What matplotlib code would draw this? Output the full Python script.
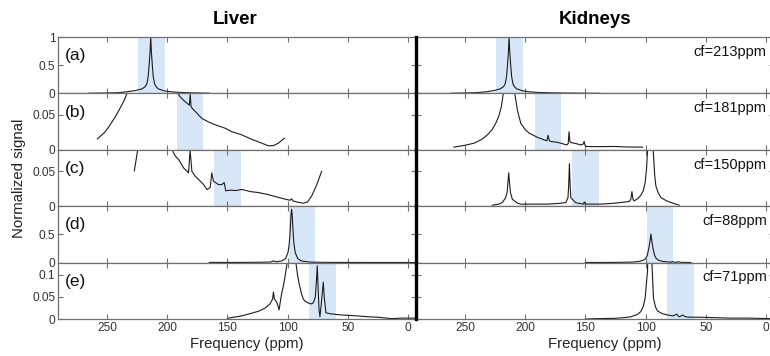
import matplotlib
matplotlib.use("Agg")
import matplotlib.pyplot as plt

# ---------------- data ----------------
col_titles = ["Liver", "Kidneys"]
panel_labels = ["(a)", "(b)", "(c)", "(d)", "(e)"]
cf_ppm = [213, 181, 150, 88, 71]
cf_labels = ["cf=213ppm", "cf=181ppm", "cf=150ppm", "cf=88ppm", "cf=71ppm"]
x_ticks = [0, 50, 100, 150, 200, 250]
y_ticks_rows = [[0, 0.5, 1], [0, 0.05], [0, 0.05], [0, 0.5], [0, 0.05, 0.1]]
y_ticklabels_rows = [["0", "0.5", "1"], ["0", "0.05"], ["0", "0.05"], ["0", "0.5"], ["0", "0.05", "0.1"]]
y_top_rows = [1.0, 0.081, 0.081, 1.0, 0.127]

# Liver spectra
liver_a_ppm = [265, 250, 240, 233, 226.5, 221, 218.3, 216.9, 215.8, 215.1, 214.3, 213.7, 213.1,
               212.3, 211.6, 210.5, 209.3, 207.4, 202.5, 197.5, 190, 180, 172, 165]
liver_a_sig = [0.003, 0.007, 0.014, 0.03, 0.05, 0.08, 0.12, 0.17, 0.3, 0.48, 0.72, 1.0, 0.72,
               0.48, 0.3, 0.17, 0.12, 0.08, 0.045, 0.03, 0.018, 0.01, 0.006, 0.004]

liver_b_ppm = [258, 252, 248.5, 244, 240, 236, 233.4, 228, 222, 216, 213.5, 211, 205, 198, 192,
               189.2, 186.4, 183.6, 181.6, 180.9, 180.2, 179.5, 176.7, 171.2, 165.7, 160.2, 151.9,
               146.4, 138, 129.8, 122.9, 116, 111.8, 107.7, 102.7]
liver_b_sig = [0.0157, 0.025, 0.033, 0.045, 0.057, 0.07, 0.081, 0.12, 0.25, 0.6, 1.0, 0.6, 0.25, 0.12,
               0.083, 0.076, 0.071, 0.067, 0.064, 0.08, 0.062, 0.06, 0.055, 0.045, 0.040, 0.036, 0.031,
               0.026, 0.0214, 0.015, 0.0105, 0.0057, 0.006, 0.0095, 0.0167]

liver_c_ppm = [227.3, 226, 224.5, 220, 213.5, 205, 196, 193.3, 190.5, 186.4, 182.3, 181, 179.5, 176.7,
               174, 169.8, 167, 164.3, 163, 161.6, 157.4, 154.7, 152.7, 151.4, 148, 143, 138, 131,
               124.3, 117, 110.4, 104, 98, 96.7, 95.5, 91, 87, 83.5, 80, 76, 71.8]
liver_c_sig = [0.051, 0.065, 0.081, 0.15, 1.0, 0.15, 0.081, 0.072, 0.067, 0.055, 0.048, 0.08, 0.05,
               0.043, 0.0386, 0.031, 0.024, 0.027, 0.048, 0.036, 0.031, 0.031, 0.034, 0.022, 0.023,
               0.0225, 0.024, 0.021, 0.0196, 0.017, 0.014, 0.011, 0.0085, 0.0105, 0.0075, 0.0055,
               0.0043, 0.006, 0.0148, 0.03, 0.05]

liver_d_ppm = [165, 150, 135, 122, 114, 111.8, 109.5, 104.7, 101.7, 99.7, 98.7, 98.2, 97.7, 97.2,
               96.7, 96.2, 95.7, 95.2, 94.7, 93.7, 91.7, 88.7, 81.7, 75, 66, 50, 30, 10, 0, -6]
liver_d_sig = [0.004, 0.003, 0.004, 0.006, 0.010, 0.03, 0.014, 0.03, 0.073, 0.179, 0.326, 0.457,
               0.64, 0.845, 0.946, 0.845, 0.64, 0.457, 0.326, 0.179, 0.073, 0.030, 0.0088, 0.006,
               0.004, 0.003, 0.002, 0.002, 0.002, 0.001]

liver_e_ppm = [149.7, 145, 140, 135.3, 130, 124.3, 119, 114.6, 112.5, 111.8, 111, 109.1, 107.8,
               107.1, 106.3, 105, 103.5, 102.2, 100.2, 98.7, 97.7, 97.2, 96.7, 96.2, 95.7, 94.7,
               93.3, 91.8, 90.5, 88.5, 87, 85.5, 84.2, 82, 80.1, 78.5, 77, 76, 75.4, 74.7, 73.9,
               73.2, 72.2, 71.2, 70.4, 69.6, 68.2, 65, 60.7, 55, 48, 41.4, 33, 25, 13.8, 5, 0, -6]
liver_e_sig = [0.0015, 0.004, 0.006, 0.009, 0.013, 0.0174, 0.024, 0.034, 0.045, 0.0606, 0.045,
               0.038, 0.028, 0.0205, 0.035, 0.057, 0.075, 0.095, 0.13, 0.3, 0.6, 0.8, 0.95, 0.8, 0.6,
               0.3, 0.13, 0.1, 0.08, 0.057, 0.045, 0.04, 0.038, 0.035, 0.034, 0.037, 0.05, 0.09,
               0.12, 0.07, 0.02, 0.005, 0.03, 0.06, 0.083, 0.05, 0.014, 0.012, 0.0106, 0.009, 0.008,
               0.0068, 0.005, 0.004, 0.0008, 0.002, 0.002, 0.002]

# Kidney spectra
kidney_a_ppm = [262, 250, 240, 232, 226, 220.8, 218, 216.6, 215.5, 214.8, 214.0, 213.4, 212.8,
                212.0, 211.3, 210.2, 209, 207, 202, 197.4, 190, 180, 170, 160, 150, 138]
kidney_a_sig = [0.003, 0.007, 0.014, 0.03, 0.05, 0.08, 0.12, 0.17, 0.3, 0.48, 0.72, 1.0, 0.72,
                0.48, 0.3, 0.17, 0.12, 0.08, 0.045, 0.03, 0.018, 0.011, 0.007, 0.005, 0.003, 0.002]

kidney_b_ppm = [259.2, 250, 242.5, 236, 231.5, 227.5, 224.5, 222, 219.8, 218.2, 216, 213.4, 211,
                208.7, 206.5, 203.7, 200, 196.8, 190, 184.3, 182, 181, 180, 178.8, 174, 170.5,
                165.5, 164.3, 163.6, 162.9, 162.2, 158, 153.8, 152, 151.1, 150.4, 149.7, 140, 126,
                115, 102.6]
kidney_b_sig = [0.0038, 0.0065, 0.0095, 0.015, 0.0214, 0.029, 0.038, 0.048, 0.062, 0.081, 0.2, 1.0,
                0.2, 0.081, 0.057, 0.038, 0.029, 0.024, 0.018, 0.0143, 0.013, 0.021, 0.013, 0.012,
                0.011, 0.0095, 0.007, 0.009, 0.026, 0.012, 0.0105, 0.009, 0.007, 0.008, 0.012, 0.007,
                0.0048, 0.0045, 0.0048, 0.004, 0.0038]

kidney_c_ppm = [227.3, 222, 219, 216.2, 215, 214.3, 213.7, 213.1, 212.3, 210.7, 207, 203.7, 195,
                181.6, 172, 166.3, 164.5, 163.9, 163.3, 162.7, 162.1, 158, 151.8, 151, 150.2, 137.2,
                128, 120.6, 113.7, 112.3, 111.4, 110.5, 109.5, 106.5, 104, 102, 100.4, 99.2, 98.4,
                96.0, 93.7, 92.5, 91.5, 89.5, 87.3, 83, 79, 75, 72.1]
kidney_c_sig = [0.0014, 0.003, 0.0053, 0.0124, 0.02, 0.035, 0.048, 0.035, 0.02, 0.01, 0.005, 0.0029,
                0.003, 0.003, 0.004, 0.0053, 0.012, 0.03, 0.061, 0.03, 0.012, 0.005, 0.003, 0.006,
                0.003, 0.003, 0.004, 0.0053, 0.0067, 0.01, 0.021, 0.01, 0.0076, 0.011, 0.0157, 0.022,
                0.034, 0.055, 0.081, 0.5, 0.081, 0.045, 0.029, 0.019, 0.0124, 0.008, 0.0053, 0.003,
                0.0014]

kidney_d_ppm = [150, 130, 120, 110.6, 105.6, 102.1, 100.1, 98.6, 97.4, 96.5, 95.6, 94.7, 93.8,
                92.6, 91.1, 89.1, 85.6, 80.6, 78.5, 77.7, 76.5, 74, 72.7, 71.5, 66, 62.4]
kidney_d_sig = [0.002, 0.003, 0.005, 0.01, 0.02, 0.04, 0.07, 0.13, 0.25, 0.36, 0.506, 0.36, 0.25,
                0.13, 0.07, 0.04, 0.02, 0.01, 0.008, 0.02, 0.007, 0.007, 0.018, 0.006, 0.003, 0.002]

kidney_e_ppm = [149.7, 138, 126, 118, 112.3, 107, 104, 102, 100.4, 98.4, 97.2, 96.2, 95.2, 94.8,
                93.5, 91.8, 90.1, 86, 81.8, 77, 74.3, 73, 72, 70.5, 69.3, 67, 62.4, 55, 43, 30, 15,
                0, -6]
kidney_e_sig = [0.0, 0.001, 0.0015, 0.003, 0.005, 0.01, 0.0167, 0.028, 0.047, 0.11, 0.3, 0.5, 0.3,
                0.127, 0.047, 0.027, 0.018, 0.012, 0.009, 0.007, 0.011, 0.007, 0.005, 0.007, 0.009,
                0.005, 0.004, 0.004, 0.003, 0.002, 0.002, 0.001, 0.001]

liver_series = [(liver_a_ppm, liver_a_sig), (liver_b_ppm, liver_b_sig), (liver_c_ppm, liver_c_sig),
                (liver_d_ppm, liver_d_sig), (liver_e_ppm, liver_e_sig)]
kidney_series = [(kidney_a_ppm, kidney_a_sig), (kidney_b_ppm, kidney_b_sig),
                 (kidney_c_ppm, kidney_c_sig), (kidney_d_ppm, kidney_d_sig),
                 (kidney_e_ppm, kidney_e_sig)]

# ---------------- style / layout ----------------
plt.rcParams['font.family'] = ['Liberation Sans', 'DejaVu Sans']
W, H = 770, 356
fig = plt.figure(figsize=(W / 100, H / 100), dpi=100)

span_half = 11
span_color = '#d8e7f8'
line_color = '#1c1c1c'
spine_color = '#707070'
tick_color = '#333333'
xlim = (290.7, -6.6)

top_px, bot_px = 37, 319
row_h = (bot_px - top_px) / 5
col_left_px = [58, 416]
col_w_px = 358

for c, series in enumerate([liver_series, kidney_series]):
    for r in range(5):
        y0 = top_px + r * row_h
        ax = fig.add_axes([col_left_px[c] / W, 1 - (y0 + row_h) / H, col_w_px / W, row_h / H])
        ax.axvspan(cf_ppm[r] - span_half, cf_ppm[r] + span_half, color=span_color, lw=0, zorder=0)
        ppm, sig = series[r]
        ax.plot(ppm, sig, color=line_color, lw=0.8, zorder=2)
        ax.set_xlim(*xlim)
        ax.set_ylim(0, y_top_rows[r])
        ax.set_xticks(x_ticks)
        ax.set_yticks(y_ticks_rows[r])
        for s in ax.spines.values():
            s.set_color(spine_color)
            s.set_linewidth(0.9)
        ax.tick_params(axis='both', direction='in', length=3.5, width=0.8, color=spine_color,
                       labelsize=8.6, labelcolor=tick_color, pad=2,
                       top=True, right=True)
        if c == 0:
            ax.set_yticklabels(y_ticklabels_rows[r])
            ax.text(0.02, 0.59, panel_labels[r], transform=ax.transAxes, fontsize=12.5,
                    ha='left', va='baseline', color='#111111')
        else:
            ax.set_yticklabels([])
            ax.spines['left'].set_color('black')
            ax.spines['left'].set_linewidth(2.4)
            ax.spines['left'].set_zorder(5)
            ax.text(0.98, 0.665, cf_labels[r], transform=ax.transAxes, fontsize=10.5,
                    ha='right', va='baseline', color='#111111')
        if r == 4:
            ax.set_xticklabels([str(t) for t in x_ticks])
        else:
            ax.set_xticklabels([])

# titles and axis labels
fig.text(235 / W, 1 - 24.5 / H, col_titles[0], fontsize=13.5, fontweight='bold',
         ha='center', va='baseline')
fig.text(595 / W, 1 - 24.5 / H, col_titles[1], fontsize=13.5, fontweight='bold',
         ha='center', va='baseline')
fig.text(247 / W, 1 - 344 / H, "Frequency (ppm)", fontsize=10.7, ha='center', va='center',
         color='#222222')
fig.text(605 / W, 1 - 344 / H, "Frequency (ppm)", fontsize=10.7, ha='center', va='center',
         color='#222222')
fig.text(19 / W, 1 - 178 / H, "Normalized signal", fontsize=10.8, rotation=90,
         ha='center', va='center', color='#222222')

fig.savefig("out.png", dpi=100)
